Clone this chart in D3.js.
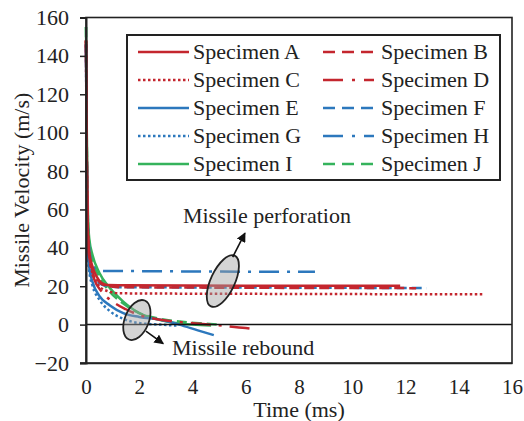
<!DOCTYPE html>
<html><head><meta charset="utf-8">
<script src="https://cdn.jsdelivr.net/npm/d3@7"></script>
<style>body{margin:0;background:#fff}svg{display:block}</style>
</head><body>
<svg id="c" width="524" height="421"></svg>
<script>
const xTicks = [0,2,4,6,8,10,12,14,16];
const yTicks = [-20,0,20,40,60,80,100,120,140,160];
const names = ["Specimen A","Specimen B","Specimen C","Specimen D","Specimen E","Specimen F","Specimen G","Specimen H","Specimen I","Specimen J"];
// [time ms, velocity m/s]
const sA = [[0,148],[0.03,90],[0.07,50],[0.12,38],[0.25,30],[0.4,25],[0.6,21.5],[0.8,20.6],[1.5,20.5],[6,20.3],[11.8,20.2]];
const sB = [[0,148],[0.03,85],[0.07,48],[0.12,36],[0.25,28],[0.45,23],[0.7,20.5],[1.2,19.5],[6,19.2],[12.4,19]];
const sC = [[0,148],[0.03,85],[0.08,45],[0.15,33],[0.3,25],[0.5,20],[0.8,17.5],[1.3,16.3],[7,16],[14.9,15.8]];
const sD = [[0,148],[0.03,80],[0.08,42],[0.15,32],[0.3,24],[0.6,17],[1.0,12],[1.5,8],[2.0,5],[2.8,2.5],[3.6,1.2],[4.5,0.2],[5.3,-0.8],[6.0,-1.8],[6.4,-2.5]];
const sE = [[0,146],[0.03,80],[0.07,40],[0.12,30],[0.25,22],[0.5,15],[0.9,10],[1.4,6],[2.0,4],[2.8,2.5],[3.5,0],[4.2,-3],[4.8,-5.5]];
const sF = [[0,146],[0.03,85],[0.07,45],[0.12,33],[0.25,26],[0.45,22],[0.8,20],[1.3,19.5],[7,19.3],[12.8,19]];
const sG = [[0,146],[0.03,75],[0.07,38],[0.12,28],[0.25,20],[0.5,13],[0.9,7],[1.4,3],[2,0.8],[2.8,0],[3.4,-0.5]];
const sH = [[0,146],[0.03,90],[0.07,55],[0.12,40],[0.2,33],[0.35,29],[0.6,28],[8.6,27.5]];
const sI = [[0,155],[0.03,100],[0.07,60],[0.12,45],[0.25,36],[0.5,27],[0.9,19],[1.4,12],[2.0,6],[2.6,3],[3.3,1],[4.0,0],[4.7,-0.5]];
const sJ = [[0,155],[0.03,95],[0.07,55],[0.12,42],[0.25,33],[0.5,25],[0.9,17],[1.4,11],[2.0,6],[2.8,3],[3.6,1.5],[4.5,0.5],[5,0]];
const seriesData = [sA,sB,sC,sD,sE,sF,sG,sH,sI,sJ];

const RED="#c4262e", BLUE="#2c78bd", GREEN="#35b35c";
const colors = [RED,RED,RED,RED,BLUE,BLUE,BLUE,BLUE,GREEN,GREEN];
const DASH="10,5", DOT="2.5,2.5", DDOT="20,8,3,8";
const dashes = [null,DASH,DOT,DDOT,null,DASH,DOT,DDOT,null,DASH];

const svg = d3.select("#c");
const x = d3.scaleLinear().domain([0,16]).range([86,512]);
const y = d3.scaleLinear().domain([-20,160]).range([363,17.5]);
const FONT = "'Liberation Serif','Times New Roman',serif";
const TXT = "#222";

const line = d3.line().x(d=>x(d[0])).y(d=>y(d[1])).curve(d3.curveMonotoneX);
const order = [8,9,4,5,6,7,0,1,2,3];
order.forEach(i=>{
  svg.append("path").datum(seriesData[i]).attr("d",line)
    .attr("fill","none").attr("stroke",colors[i]).attr("stroke-width",2.5)
    .attr("stroke-dasharray",dashes[i]);
});

// zero line
svg.append("line").attr("x1",x(0)).attr("x2",x(16)).attr("y1",y(0)).attr("y2",y(0))
  .attr("stroke","#111").attr("stroke-width",1.5);

// frame
svg.append("rect").attr("x",x(0)).attr("y",y(160)).attr("width",x(16)-x(0)).attr("height",y(-20)-y(160))
  .attr("fill","none").attr("stroke","#222").attr("stroke-width",1.6);

// y axis
const yAxis = d3.axisLeft(y).tickValues(yTicks).tickSize(6).tickPadding(11).tickFormat(d3.format("d"));
const gy = svg.append("g").attr("transform",`translate(${x(0)},0)`).call(yAxis);
gy.select(".domain").attr("stroke","#222").attr("stroke-width",2);
gy.selectAll(".tick line").attr("stroke","#222").attr("stroke-width",1.5);
gy.selectAll(".tick text").attr("font-family",FONT).attr("font-size",22).attr("fill",TXT);

// x axis
const xAxis = d3.axisBottom(x).tickValues(xTicks).tickSize(0).tickPadding(16).tickFormat(d3.format("d"));
const gx = svg.append("g").attr("transform",`translate(0,${y(-20)})`).call(xAxis);
gx.select(".domain").attr("stroke","#222").attr("stroke-width",1.6);
gx.selectAll(".tick text").attr("font-family",FONT).attr("font-size",21).attr("fill",TXT);
svg.append("line").attr("x1",80).attr("x2",x(0)).attr("y1",y(-20)).attr("y2",y(-20)).attr("stroke","#222").attr("stroke-width",1.5);

// axis titles
svg.append("text").attr("x",(x(0)+x(16))/2).attr("y",417).attr("text-anchor","middle")
  .attr("font-family",FONT).attr("font-size",22).attr("fill",TXT).text("Time (ms)");
svg.append("text").attr("transform",`translate(29,${(y(160)+y(-20))/2}) rotate(-90)`).attr("text-anchor","middle")
  .attr("font-family",FONT).attr("font-size",22).attr("fill",TXT).text("Missile Velocity (m/s)");

// legend
const lg = svg.append("g");
lg.append("rect").attr("x",127).attr("y",35).attr("width",373).attr("height",145)
  .attr("fill","#fff").attr("stroke","#222").attr("stroke-width",2);
names.forEach((n,i)=>{
  const col = i%2, row = Math.floor(i/2);
  const cy = 52 + row*28;
  const lx = col ? 323 : 138, tx = col ? 381 : 193;
  lg.append("line").attr("x1",lx).attr("x2",lx+51).attr("y1",cy).attr("y2",cy)
    .attr("stroke",colors[i]).attr("stroke-width",2.5).attr("stroke-dasharray",dashes[i]===DDOT?"20,9,3,9":(dashes[i]===DASH?"12,7":dashes[i]));
  lg.append("text").attr("x",tx).attr("y",cy+7).attr("font-family",FONT).attr("font-size",22).attr("fill",TXT).text(n);
});

// annotations
const defs = svg.append("defs");
defs.append("marker").attr("id","ah").attr("viewBox","0 0 10 10").attr("refX",9).attr("refY",5)
  .attr("markerWidth",6).attr("markerHeight",6).attr("orient","auto")
  .append("path").attr("d","M0,0 L10,5 L0,10 z").attr("fill","#111");

function ellipse(t,v,rx,ry,rot){
  svg.append("ellipse").attr("cx",0).attr("cy",0).attr("rx",rx).attr("ry",ry)
    .attr("transform",`translate(${x(t)},${y(v)}) rotate(${rot})`)
    .attr("fill","rgba(160,160,160,0.45)").attr("stroke","#222").attr("stroke-width",1.8);
}
function arrow(t1,v1,t2,v2){
  svg.append("line").attr("x1",x(t1)).attr("y1",y(v1)).attr("x2",x(t2)).attr("y2",y(v2))
    .attr("stroke","#111").attr("stroke-width",1.6).attr("marker-end","url(#ah)");
}
ellipse(5.14,22.7,12,28,25);
arrow(5.51,35.2,5.97,47.7);
ellipse(1.91,2.4,12,21,22);
arrow(2.25,-3.4,2.9,-9.9);
svg.append("text").attr("x",x(3.64)).attr("y",y(52.9)).attr("font-family",FONT).attr("font-size",22).attr("fill",TXT).text("Missile perforation");
svg.append("text").attr("x",x(3.23)).attr("y",y(-15.8)).attr("font-family",FONT).attr("font-size",22).attr("fill",TXT).text("Missile rebound");
</script>
</body></html>
